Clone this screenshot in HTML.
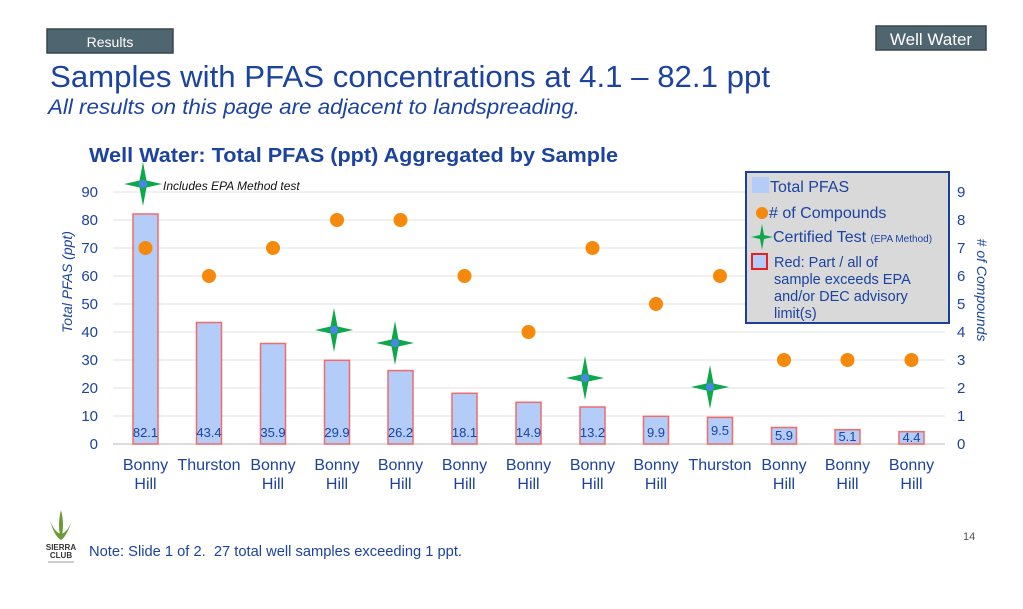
<!DOCTYPE html>
<html><head><meta charset="utf-8"><style>
html,body{margin:0;padding:0;background:#fff;}
body{width:1023px;height:604px;overflow:hidden;font-family:"Liberation Sans",sans-serif;}
</style></head><body>
<svg width="1023" height="604" xmlns="http://www.w3.org/2000/svg" font-family="Liberation Sans, sans-serif">
<defs>
<g id="star"><path d="M0,-22 L3.5,-3.5 L19,0 L3.5,3.5 L0,22 L-3.5,3.5 L-19,0 L-3.5,-3.5 Z" fill="#0ca84a"/><circle r="4" fill="#4a86e8"/></g>
</defs>
<rect x="47" y="29" width="126" height="24" fill="#4f6670" stroke="#36474f" stroke-width="1.5"/>
<text x="110" y="47" fill="#fff" font-size="14" text-anchor="middle">Results</text>
<rect x="876" y="26" width="110" height="24" fill="#4f6670" stroke="#36474f" stroke-width="1.5"/>
<text x="931" y="45" fill="#fff" font-size="17" text-anchor="middle">Well Water</text>
<text x="50" y="87" fill="#1c43a0" font-size="31" textLength="720" lengthAdjust="spacingAndGlyphs">Samples with PFAS concentrations at 4.1 – 82.1 ppt</text>
<text x="48" y="114" fill="#1c43a0" font-size="21" font-style="italic" textLength="532" lengthAdjust="spacingAndGlyphs">All results on this page are adjacent to landspreading.</text>
<text x="89" y="162" fill="#1c43a0" font-size="20" font-weight="bold" textLength="529" lengthAdjust="spacingAndGlyphs">Well Water: Total PFAS (ppt) Aggregated by Sample</text>
<g stroke="#e0e0e0" stroke-width="1">
<line x1="113" x2="945" y1="192" y2="192"/><line x1="113" x2="945" y1="220" y2="220"/><line x1="113" x2="945" y1="248" y2="248"/><line x1="113" x2="945" y1="276" y2="276"/><line x1="113" x2="945" y1="304" y2="304"/><line x1="113" x2="945" y1="332" y2="332"/><line x1="113" x2="945" y1="360" y2="360"/><line x1="113" x2="945" y1="388" y2="388"/><line x1="113" x2="945" y1="416" y2="416"/>
</g>
<line x1="113" x2="945" y1="444" y2="444" stroke="#d0d0d0" stroke-width="1.5"/>
<g fill="#1c43a0" font-size="15" text-anchor="end">
<text x="98" y="449">0</text><text x="98" y="421">10</text><text x="98" y="393">20</text><text x="98" y="365">30</text><text x="98" y="337">40</text><text x="98" y="309">50</text><text x="98" y="281">60</text><text x="98" y="253">70</text><text x="98" y="225">80</text><text x="98" y="197">90</text>
</g>
<g fill="#1c43a0" font-size="15">
<text x="957" y="449">0</text><text x="957" y="421">1</text><text x="957" y="393">2</text><text x="957" y="365">3</text><text x="957" y="337">4</text><text x="957" y="309">5</text><text x="957" y="281">6</text><text x="957" y="253">7</text><text x="957" y="225">8</text><text x="957" y="197">9</text>
</g>
<text transform="translate(72,282) rotate(-90)" fill="#1c43a0" font-size="14" font-style="italic" text-anchor="middle">Total PFAS (ppt)</text>
<text transform="translate(977,290) rotate(90)" fill="#1c43a0" font-size="14" font-style="italic" text-anchor="middle"># of Compounds</text>
<g fill="#b3cdf8" stroke="#f26b6b" stroke-width="1.5">
<rect x="133" y="214" width="25" height="230"/>
<rect x="196.5" y="322.5" width="25" height="121.5"/>
<rect x="260.5" y="343.5" width="25" height="100.5"/>
<rect x="324.5" y="360.3" width="25" height="83.7"/>
<rect x="388" y="370.6" width="25" height="73.4"/>
<rect x="452" y="393.3" width="25" height="50.7"/>
<rect x="516" y="402.3" width="25" height="41.7"/>
<rect x="580" y="407" width="25" height="37"/>
<rect x="643.5" y="416.3" width="25" height="27.7"/>
<rect x="707.5" y="417.4" width="25" height="26.6"/>
<rect x="771.5" y="427.5" width="25" height="16.5"/>
<rect x="835" y="429.7" width="25" height="14.3"/>
<rect x="899" y="431.7" width="25" height="12.3"/>
</g>
<g fill="#1c43a0" font-size="13" text-anchor="middle">
<text x="145.5" y="437">82.1</text><text x="209" y="437">43.4</text><text x="273" y="437">35.9</text><text x="337" y="437">29.9</text><text x="400.5" y="437">26.2</text><text x="464.5" y="437">18.1</text><text x="528.5" y="437">14.9</text><text x="592.5" y="437">13.2</text><text x="656" y="437">9.9</text><text x="720" y="435">9.5</text><text x="784" y="440">5.9</text><text x="847.5" y="441">5.1</text><text x="911.5" y="442">4.4</text>
</g>
<g fill="#f5890c">
<circle cx="145.5" cy="248" r="7"/><circle cx="209" cy="276" r="7"/><circle cx="273" cy="248" r="7"/><circle cx="337" cy="220" r="7"/><circle cx="400.5" cy="220" r="7"/><circle cx="464.5" cy="276" r="7"/><circle cx="528.5" cy="332" r="7"/><circle cx="592.5" cy="248" r="7"/><circle cx="656" cy="304" r="7"/><circle cx="720" cy="276" r="7"/><circle cx="784" cy="360" r="7"/><circle cx="847.5" cy="360" r="7"/><circle cx="911.5" cy="360" r="7"/>
</g>
<use href="#star" x="143" y="184"/>
<use href="#star" x="334" y="330"/>
<use href="#star" x="395" y="343"/>
<use href="#star" x="585" y="378"/>
<use href="#star" x="710" y="387"/>
<text x="163" y="190" font-size="12" font-style="italic" fill="#111">Includes EPA Method test</text>
<g fill="#1c43a0" font-size="16" text-anchor="middle">
<text x="145.5" y="470">Bonny</text><text x="145.5" y="489">Hill</text>
<text x="209" y="470">Thurston</text>
<text x="273" y="470">Bonny</text><text x="273" y="489">Hill</text>
<text x="337" y="470">Bonny</text><text x="337" y="489">Hill</text>
<text x="400.5" y="470">Bonny</text><text x="400.5" y="489">Hill</text>
<text x="464.5" y="470">Bonny</text><text x="464.5" y="489">Hill</text>
<text x="528.5" y="470">Bonny</text><text x="528.5" y="489">Hill</text>
<text x="592.5" y="470">Bonny</text><text x="592.5" y="489">Hill</text>
<text x="656" y="470">Bonny</text><text x="656" y="489">Hill</text>
<text x="720" y="470">Thurston</text>
<text x="784" y="470">Bonny</text><text x="784" y="489">Hill</text>
<text x="847.5" y="470">Bonny</text><text x="847.5" y="489">Hill</text>
<text x="911.5" y="470">Bonny</text><text x="911.5" y="489">Hill</text>
</g>
<rect x="746" y="172" width="203" height="151" fill="#d9d9d9" stroke="#1c3f99" stroke-width="2"/>
<rect x="752" y="177" width="17" height="16" fill="#b3cdf8"/>
<text x="770" y="192" fill="#1c43a0" font-size="16">Total PFAS</text>
<circle cx="762" cy="213" r="6" fill="#f5890c"/>
<text x="769" y="218" fill="#1c43a0" font-size="16"># of Compounds</text>
<path d="M762,224 L764,235 L773,237 L764,239 L762,250 L760,239 L751,237 L760,235 Z" fill="#0ca84a"/>
<text x="773" y="242" fill="#1c43a0" font-size="16">Certified Test <tspan font-size="10">(EPA Method)</tspan></text>
<rect x="752" y="254" width="15" height="15" fill="#b3cdf8" stroke="#e82020" stroke-width="2"/>
<g fill="#1c43a0" font-size="14.5"><text x="774" y="267">Red: Part / all of</text><text x="774" y="284">sample exceeds EPA</text><text x="774" y="301">and/or DEC advisory</text><text x="774" y="318">limit(s)</text></g>
<g>
<path d="M61,540 Q57,525 61,510 Q65,525 61,540 Z" fill="#6a9a3a"/>
<path d="M50,520 Q54,536 61,540 Q67,536 72,520 Q68,532 61,534 Q54,532 50,520Z" fill="#6a9a3a"/>
<text x="61" y="550" font-size="8" font-weight="bold" fill="#333" text-anchor="middle">SIERRA</text>
<text x="61" y="558" font-size="8" font-weight="bold" fill="#333" text-anchor="middle">CLUB</text>
<line x1="48" y1="562" x2="74" y2="562" stroke="#999" stroke-width="1"/>
</g>
<text x="89" y="556" fill="#1c43a0" font-size="15" textLength="373" lengthAdjust="spacingAndGlyphs">Note: Slide 1 of 2.&#160; 27 total well samples exceeding 1 ppt.</text>
<text x="963" y="540" fill="#555" font-size="11">14</text>
</svg>
</body></html>
